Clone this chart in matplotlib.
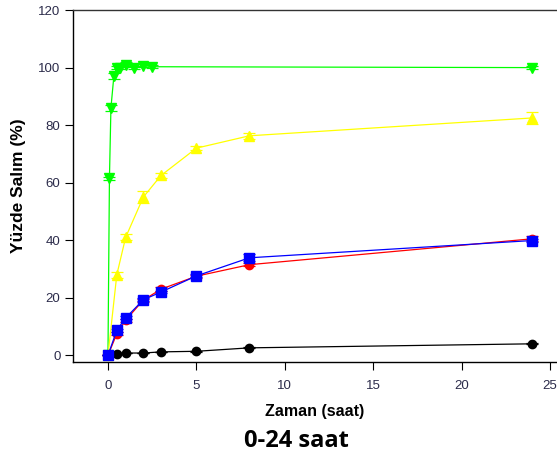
import matplotlib.pyplot as plt

# zaman noktalari (saat)
t_green = [0, 0.083, 0.167, 0.333, 0.5, 0.667, 1, 1.5, 2, 2.5, 24]
green = [0, 61.5, 86, 97, 100, 100, 101, 100, 100.7, 100.3, 100]
green_err = [0, 0.5, 1, 1, 0.5, 0.5, 0.8, 0.5, 0.5, 0.5, 0.5]

t = [0, 0.5, 1, 2, 3, 5, 8, 24]
yellow = [0, 28, 41, 55, 62.5, 72, 76.3, 82.5]
yellow_err = [0, 1, 1, 2.2, 1, 0.8, 1, 2]
red = [0, 7.5, 12.2, 19.2, 23, 27.5, 31.5, 40.5]
red_err = [0, 0.5, 0.5, 0.5, 0.8, 0.5, 0.5, 0.8]
blue = [0, 8.7, 13, 19.3, 22, 27.6, 33.9, 39.9]
blue_err = [0, 0.5, 0.5, 0.5, 0.5, 0.5, 1.2, 0.5]
black = [0, 0.5, 0.8, 0.8, 1.2, 1.4, 2.6, 4.0]
black_err = [0, 0.1, 0.1, 0.1, 0.1, 0.1, 0.2, 0.2]

xticks = [0, 5, 10, 15, 20, 25]
yticks = [0, 20, 40, 60, 80, 100, 120]

plt.rcParams['font.family'] = ['Liberation Sans', 'DejaVu Sans']

fig = plt.figure(figsize=(5.57, 4.57), dpi=100)
ax = fig.add_axes([0.131, 0.208, 0.869, 0.77])

kw = dict(lw=0.9, capsize=4, elinewidth=0.9, capthick=0.9)
ax.errorbar(t_green, green, yerr=green_err, color='#00ff00', marker='v', ms=7, **kw)
ax.errorbar(t, yellow, yerr=yellow_err, color='#ffff00', marker='^', ms=7, **kw)
ax.errorbar(t, black, yerr=black_err, color='black', marker='o', ms=6, **kw)
ax.errorbar(t, red, yerr=red_err, color='#ff0000', marker='o', ms=6, **kw)
ax.errorbar(t, blue, yerr=blue_err, color='#0000ff', marker='s', ms=7, **kw)

ax.set_xlim(-1.98, 25.4)
ax.set_ylim(-2.3, 120)
ax.set_xticks(xticks)
ax.set_yticks(yticks)
ax.tick_params(labelsize=9.5, labelcolor='#2b2b4a', length=6, width=0.8)
ax.tick_params(axis='y', pad=3)
ax.tick_params(axis='x', pad=7)
ax.spines['right'].set_visible(False)
ax.spines['top'].set_color('#333333')
for s in ['left', 'bottom', 'top']:
    ax.spines[s].set_linewidth(1.0)

ax.set_ylabel('Yüzde Salım (%)', fontsize=12.5, fontweight='bold', labelpad=9)
ax.set_xlabel('Zaman (saat)', fontsize=11.5, fontweight='bold', labelpad=9)
fig.text(0.533, 0.022, '0-24 saat', ha='center', fontsize=17, fontweight='bold',
         family=['Open Sans', 'DejaVu Sans'])

fig.savefig('out.png', dpi=100)
